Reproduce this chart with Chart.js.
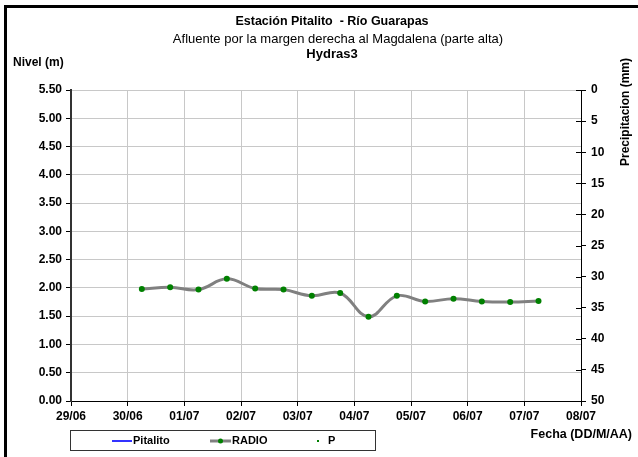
<!DOCTYPE html>
<html>
<head>
<meta charset="utf-8">
<script src="https://cdn.jsdelivr.net/npm/chart.js@4/dist/chart.umd.min.js"></script>
<style>
  html, body { margin: 0; padding: 0; background: #fff; }
  #wrap { width: 638px; height: 457px; position: relative; }
</style>
</head>
<body>
<div id="wrap"><canvas id="chart" width="638" height="457"></canvas></div>
<script>
const xTickLabels = ['29/06', '30/06', '01/07', '02/07', '03/07', '04/07', '05/07', '06/07', '07/07', '08/07'];
const levelTicks = [0, 0.5, 1, 1.5, 2, 2.5, 3, 3.5, 4, 4.5, 5, 5.5];
const rainTicks = [0, 5, 10, 15, 20, 25, 30, 35, 40, 45, 50];

// RADIO readings, every 12 hours
const radioTimes = [
  '30/06 06:00', '30/06 18:00', '01/07 06:00', '01/07 18:00', '02/07 06:00',
  '02/07 18:00', '03/07 06:00', '03/07 18:00', '04/07 06:00', '04/07 18:00',
  '05/07 06:00', '05/07 18:00', '06/07 06:00', '06/07 18:00', '07/07 06:00'
];
const radioLevels = [1.98, 2.01, 1.97, 2.16, 1.99, 1.97, 1.86, 1.91, 1.49, 1.86, 1.76, 1.81, 1.76, 1.75, 1.77];
const pitalitoLevels = [];
const precipitation = [];

const FONT = "'Liberation Sans', Arial, sans-serif";

function dayOffset(str) {
  const [d, t] = str.split(' ');
  const [dd, mm] = d.split('/').map(Number);
  const [hh, mi] = t.split(':').map(Number);
  const base = new Date(2010, 5, 29, 0, 0);
  const dt = new Date(2010, mm - 1, dd, hh, mi);
  return (dt - base) / 86400000;
}

const radioPoints = radioTimes.map((t, i) => ({ x: dayOffset(t), y: radioLevels[i] }));

const decorPlugin = {
  id: 'decor',
  afterDraw(chart) {
    const ctx = chart.ctx;
    ctx.save();
    // frame (only top and left visible)
    ctx.fillStyle = '#000';
    ctx.fillRect(4, 5, 634, 3);
    ctx.fillRect(4, 5, 3, 452);

    // titles
    ctx.textAlign = 'center';
    ctx.textBaseline = 'middle';
    ctx.fillStyle = '#000';
    ctx.font = 'bold 12.5px ' + FONT;
    ctx.fillText('Estación Pitalito  - Río Guarapas', 332, 22);
    ctx.font = '13px ' + FONT;
    ctx.fillText('Afluente por la margen derecha al Magdalena (parte alta)', 338, 39);
    ctx.font = 'bold 13px ' + FONT;
    ctx.fillText('Hydras3', 332, 54);

    // axis titles
    ctx.font = 'bold 12px ' + FONT;
    ctx.textAlign = 'left';
    ctx.fillText('Nivel (m)', 13, 63);
    ctx.textAlign = 'right';
    ctx.font = 'bold 12.5px ' + FONT;
    ctx.fillText('Fecha (DD/M/AA)', 632, 435);
    ctx.save();
    ctx.translate(626, 112);
    ctx.rotate(-Math.PI / 2);
    ctx.textAlign = 'center';
    ctx.font = 'bold 12px ' + FONT;
    ctx.fillText('Precipitacion (mm)', 0, 0);
    ctx.restore();

    // inner tick marks on the right axis
    const y2 = chart.scales.y2;
    ctx.strokeStyle = '#000';
    ctx.lineWidth = 1;
    y2.ticks.forEach(t => {
      const py = Math.round(y2.getPixelForValue(t.value)) + 0.5;
      ctx.beginPath();
      ctx.moveTo(chart.chartArea.right - 5, py);
      ctx.lineTo(chart.chartArea.right, py);
      ctx.stroke();
    });

    // legend box
    ctx.strokeStyle = '#333';
    ctx.lineWidth = 1;
    ctx.strokeRect(70.5, 430.5, 305, 20);
    ctx.font = 'bold 11px ' + FONT;
    ctx.textAlign = 'left';
    ctx.textBaseline = 'middle';
    const ly = 441;
    const ds = chart.data.datasets;
    // Pitalito
    ctx.strokeStyle = ds[0].borderColor;
    ctx.lineWidth = 2;
    ctx.beginPath(); ctx.moveTo(112, ly); ctx.lineTo(132, ly); ctx.stroke();
    ctx.fillStyle = '#000';
    ctx.fillText(ds[0].label, 133, ly);
    // RADIO
    ctx.strokeStyle = ds[1].borderColor;
    ctx.lineWidth = 3;
    ctx.beginPath(); ctx.moveTo(210, ly); ctx.lineTo(231, ly); ctx.stroke();
    ctx.fillStyle = ds[1].pointBackgroundColor;
    ctx.beginPath(); ctx.arc(220.5, ly, 2.5, 0, Math.PI * 2); ctx.fill();
    ctx.fillStyle = '#000';
    ctx.fillText(ds[1].label, 232, ly);
    // P
    ctx.fillStyle = ds[2].pointBackgroundColor;
    ctx.fillRect(317, ly - 1, 2, 2);
    ctx.fillStyle = '#000';
    ctx.fillText(ds[2].label, 328, ly);
    ctx.restore();
  }
};

new Chart(document.getElementById('chart'), {
  type: 'line',
  data: {
    datasets: [
      {
        label: 'Pitalito',
        data: pitalitoLevels,
        borderColor: '#3333ff',
        borderWidth: 2,
        pointRadius: 0,
        yAxisID: 'y'
      },
      {
        label: 'RADIO',
        data: radioPoints,
        borderColor: '#808080',
        borderWidth: 3,
        tension: 0.4,
        pointRadius: 3,
        pointBorderWidth: 0,
        pointBackgroundColor: '#008000',
        pointBorderColor: '#008000',
        yAxisID: 'y'
      },
      {
        label: 'P',
        data: precipitation,
        showLine: false,
        pointRadius: 1,
        pointBackgroundColor: '#008000',
        yAxisID: 'y2'
      }
    ]
  },
  options: {
    responsive: false,
    animation: false,
    layout: { padding: { top: 90, left: 0, right: 0, bottom: 0 } },
    plugins: {
      legend: { display: false },
      title: { display: false },
      tooltip: { enabled: false }
    },
    scales: {
      x: {
        type: 'linear',
        min: 0,
        max: 9,
        afterFit(scale) { scale.height = 56; },
        afterBuildTicks(scale) {
          scale.ticks = xTickLabels.map((l, i) => ({ value: i }));
        },
        ticks: {
          autoSkip: false,
          maxRotation: 0,
          padding: 3,
          color: '#000',
          font: { family: FONT, size: 12, weight: 'bold' },
          callback: (v, i) => xTickLabels[i]
        },
        grid: { color: '#c8c8c8', tickColor: '#000', tickLength: 5 },
        border: { color: '#000', width: 1 }
      },
      y: {
        position: 'left',
        min: 0,
        max: 5.5,
        afterFit(scale) { scale.width = 71; },
        afterBuildTicks(scale) {
          scale.ticks = levelTicks.map(v => ({ value: v }));
        },
        ticks: {
          padding: 4,
          color: '#000',
          font: { family: FONT, size: 12, weight: 'bold' },
          callback: v => v.toFixed(2)
        },
        grid: { color: '#c8c8c8', tickColor: '#000', tickLength: 5 },
        border: { color: '#333', width: 2 }
      },
      y2: {
        position: 'right',
        min: 0,
        max: 50,
        reverse: true,
        afterFit(scale) { scale.width = 57; },
        afterBuildTicks(scale) {
          scale.ticks = rainTicks.map(v => ({ value: v }));
        },
        ticks: {
          padding: 5,
          color: '#000',
          font: { family: FONT, size: 12, weight: 'bold' },
          callback: v => String(v)
        },
        grid: { drawOnChartArea: false, tickColor: '#000', tickLength: 5 },
        border: { color: '#000', width: 1 }
      }
    }
  },
  plugins: [decorPlugin]
});
</script>
</body>
</html>
